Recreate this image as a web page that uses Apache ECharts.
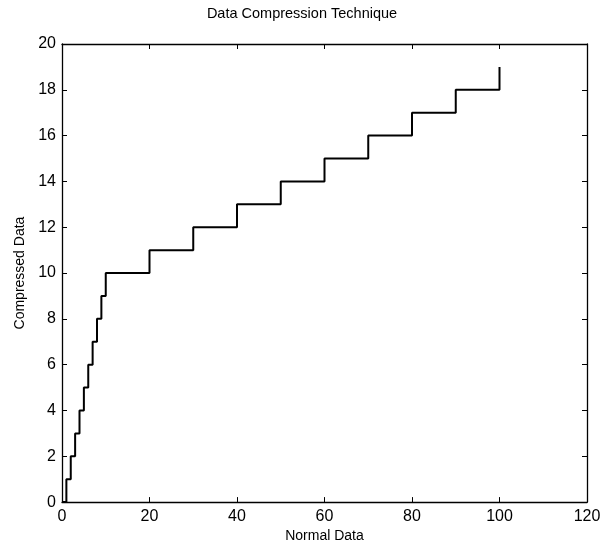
<!DOCTYPE html>
<html>
<head>
<meta charset="utf-8">
<script src="https://cdn.jsdelivr.net/npm/echarts@6/dist/echarts.min.js"></script>
<style>
  html, body { margin: 0; padding: 0; background: #fff; }
  #chart { width: 604px; height: 548px; }
</style>
</head>
<body>
<div id="chart"></div>
<script>
const normalData = [0, 1, 2, 3, 4, 5, 6, 7, 8, 9, 10, 20, 30, 40, 50, 60, 70, 80, 90, 100]
const compressedData = [0, 1, 2, 3, 4, 5, 6, 7, 8, 9, 10, 11, 12, 13, 14, 15, 16, 17, 18, 19]
const xTicks = [0, 120, 20]
const yTicks = [0, 20, 2]

const font = 'Liberation Sans, Arial, sans-serif'

function boxAxis(range, position, showLabel, name) {
  return {
    type: 'value',
    position: position,
    min: range[0],
    max: range[1],
    interval: range[2],
    name: name || '',
    nameLocation: 'middle',
    nameTextStyle: { color: '#000', fontFamily: font, fontSize: 14 },
    axisLine: { show: true, onZero: false, lineStyle: { color: '#000', width: 1.3 } },
    axisTick: { show: true, inside: true, length: 5, lineStyle: { color: '#000' } },
    axisLabel: { show: showLabel, color: '#000', fontFamily: font, fontSize: 16, margin: 6 },
    splitLine: { show: false }
  }
}

function getOptions() {
  const points = normalData.map((x, i) => [x, compressedData[i]])
  const xBottom = boxAxis(xTicks, 'bottom', true, 'Normal Data')
  xBottom.nameGap = 26
  const yLeft = boxAxis(yTicks, 'left', true, 'Compressed Data')
  yLeft.nameGap = 35
  return {
    backgroundColor: '#fff',
    animation: false,
    title: {
      text: 'Data Compression Technique',
      left: 'center',
      top: 1,
      textStyle: { color: '#000', fontFamily: font, fontSize: 14.5, fontWeight: 'normal' }
    },
    grid: { left: 62, right: 17, top: 44, bottom: 37 },
    xAxis: [xBottom, boxAxis(xTicks, 'top', false)],
    yAxis: [yLeft, boxAxis(yTicks, 'right', false)],
    series: [{
      type: 'line',
      step: 'end',
      showSymbol: false,
      lineStyle: { color: '#000', width: 2 },
      data: points
    }]
  }
}

const chart = echarts.init(document.getElementById('chart'))
chart.setOption(getOptions())
</script>
</body>
</html>
